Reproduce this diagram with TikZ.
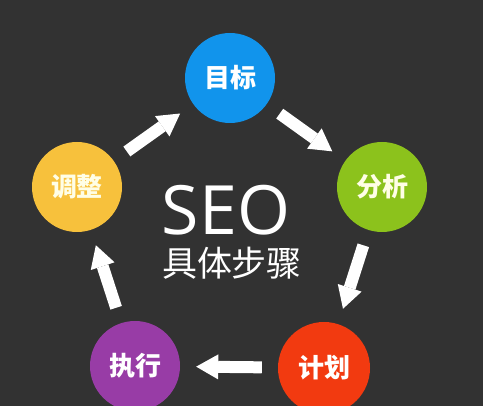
\documentclass[tikz,border=0pt]{standalone}
\usepackage{fontspec}
\setmainfont{Open Sans}
\newfontfamily\cjk{Noto Sans CJK SC}
\usetikzlibrary{arrows.meta}
\definecolor{bgdark}{HTML}{323232}
\definecolor{stepblue}{HTML}{1194EC}
\definecolor{stepgreen}{HTML}{8CC21C}
\definecolor{stepred}{HTML}{F23A10}
\definecolor{steppurple}{HTML}{983CA6}
\definecolor{stepyellow}{HTML}{F7C13C}

\begin{document}
\begin{tikzpicture}[x=1pt,y=-1pt,
		stepcircle/.style={circle,minimum size=90pt,inner sep=0pt,text=white,font=\cjk\bfseries\fontsize{26}{26}\selectfont},
		blockarrow/.style={white,line width=12pt,-{Triangle[length=22pt,width=25pt,line width=0pt]},shorten <=16pt,shorten >=16pt}]
			\fill[bgdark] (0,0) rectangle (483,406);
			\clip (0,0) rectangle (483,406);
			\node [stepcircle,fill=stepblue] (Goal) at (230,78) {目标};
			\node [stepcircle,fill=stepgreen,text=white!90!yellow] (Analyse) at (382,187) {分析};
			\node [stepcircle,fill=stepred,minimum size=92pt] (Plan) at (324,368) {计划};
			\node [stepcircle,fill=steppurple] (Execute) at (135,366) {执行};
			\node [stepcircle,fill=stepyellow,text=white!90!yellow] (Adjust) at (77,187) {调整};
			\node [anchor=base,text=white,inner sep=0pt,text depth=0pt,font=\fontsize{68}{68}\selectfont] (Seo) at (226,235) {SEO};
			\node [anchor=base,text=white,inner sep=0pt,text height=28pt,text depth=3pt,font=\cjk\fontsize{35}{35}\selectfont] (Steps) at (232,277) {具体步骤};
			\draw[blockarrow] (Adjust) -- (Goal);
			\draw[blockarrow] (Goal) -- (Analyse);
			\draw[blockarrow] (Analyse) -- (Plan);
			\draw[blockarrow] (Plan) -- (Execute);
			\draw[blockarrow] (Execute) -- (Adjust);
		\end{tikzpicture}
\end{document}
